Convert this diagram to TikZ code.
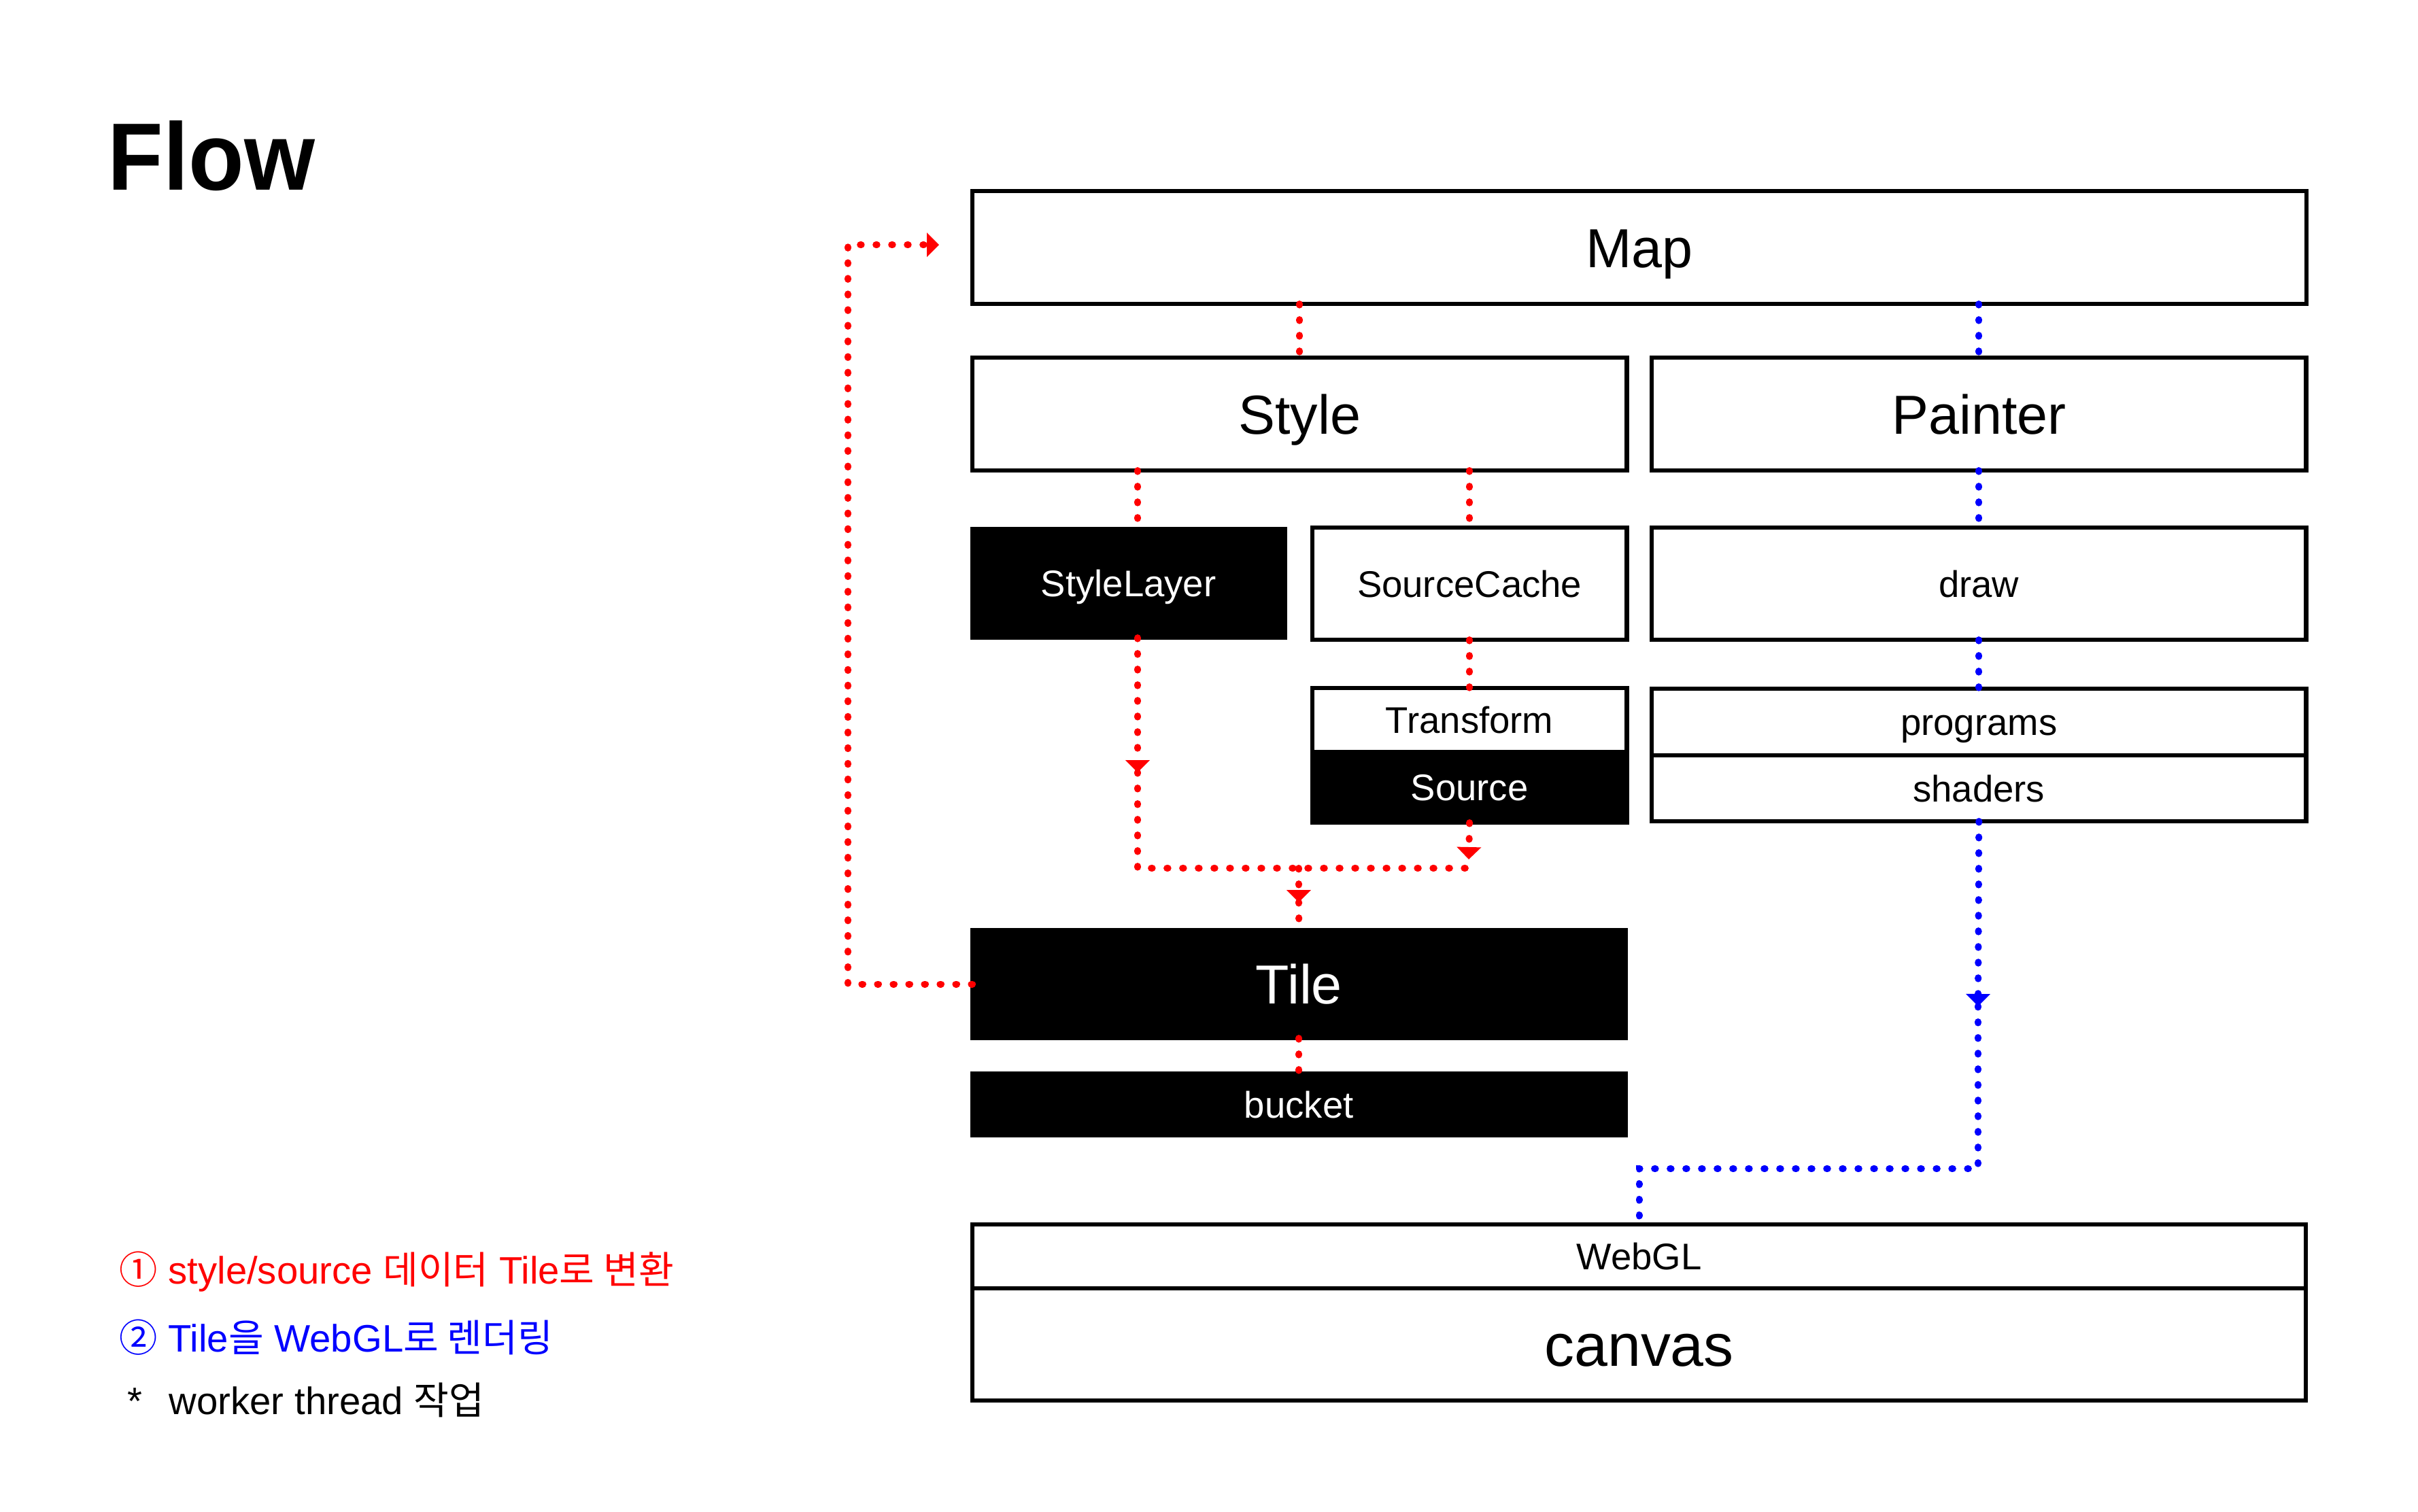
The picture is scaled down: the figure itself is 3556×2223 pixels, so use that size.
\documentclass[tikz,border=0pt]{standalone}
\usepackage{fontspec}
\usepackage{graphicx}
\setmainfont{Liberation Sans}
\newfontfamily\cjk{Noto Sans CJK KR}
\usetikzlibrary{arrows.meta}
\definecolor{rd}{RGB}{255,0,0}
\definecolor{bl}{RGB}{0,0,255}
\begin{document}
\begin{tikzpicture}[x=0.01cm,y=-0.01cm,
  box/.style={draw=black,line width=0.065cm,inner sep=0pt,outer sep=0pt,anchor=north west,align=center,text depth=0pt},
  wbox/.style={box,fill=white,text=black},
  bbox/.style={box,fill=black,text=white},
  bigtxt/.style={font=\fontsize{23}{27}\selectfont,text height=16.47pt},
  smalltxt/.style={font=\fontsize{15.5}{18}\selectfont,text height=11.1pt},
  hugetxt/.style={font=\fontsize{25}{30}\selectfont,text height=17.9pt},
  dotline/.style={line width=0.1cm,line cap=round,dash pattern=on 0.015cm off 0.215cm},
  rdots/.style={dotline,draw=rd},
  bdots/.style={dotline,draw=bl},
  arrowend/.style={-{Triangle[length=0.18cm,width=0.36cm,line width=0pt]}},
  legend/.style={anchor=base west,inner sep=0pt,font=\fontsize{16}{19}\selectfont}]
\useasboundingbox (0,0) rectangle (3556,2223);
\fill[white] (0,0) rectangle (3556,2223);

\node[anchor=base west,inner sep=0pt,font=\fontsize{40}{48}\selectfont\bfseries] (title) at (158,279) {\scalebox{0.95}[1]{Flow}};

\node[wbox,bigtxt,minimum width=19.61cm,minimum height=1.66cm] (Map) at (1430,281) {Map};
\node[wbox,bigtxt,minimum width=9.62cm,minimum height=1.66cm] (Style) at (1430,526) {Style};
\node[wbox,bigtxt,minimum width=9.62cm,minimum height=1.66cm] (Painter) at (2429,526) {Painter};
\node[bbox,smalltxt,minimum width=4.59cm,minimum height=1.60cm] (StyleLayer) at (1430,778) {StyleLayer};
\node[wbox,smalltxt,minimum width=4.62cm,minimum height=1.65cm] (SourceCache) at (1930,776) {SourceCache};
\node[wbox,smalltxt,minimum width=9.62cm,minimum height=1.65cm] (drawbox) at (2429,776) {draw};
\node[wbox,smalltxt,minimum width=4.62cm,minimum height=0.94cm] (Transform) at (1930,1012) {Transform};
\node[bbox,smalltxt,minimum width=4.62cm,minimum height=1.04cm] (Source) at (1930,1106) {Source};
\node[wbox,smalltxt,minimum width=9.62cm,minimum height=0.98cm] (programs) at (2429,1013) {programs};
\node[wbox,smalltxt,minimum width=9.62cm,minimum height=0.97cm] (shaders) at (2429,1111) {shaders};
\node[bbox,bigtxt,minimum width=9.60cm,minimum height=1.59cm] (Tile) at (1430,1368) {Tile};
\node[bbox,smalltxt,minimum width=9.60cm,minimum height=0.91cm] (bucket) at (1430,1579) {bucket};
\node[wbox,smalltxt,minimum width=19.60cm,minimum height=0.94cm] (WebGL) at (1430,1801) {WebGL};
\node[wbox,hugetxt,minimum width=19.60cm,minimum height=1.65cm] (canvas) at (1430,1895) {canvas};

\coordinate (slA) at (1673,1136);
\coordinate (slC) at (1673,1277);
\coordinate (scC) at (2160,1277);
\coordinate (scA) at (2160,1264);
\coordinate (jn) at (1910,1277);
\coordinate (tA) at (1910,1327);
\coordinate (lpT) at (1247,360);
\coordinate (mA) at (1381,360);
\coordinate (bA) at (2909,1480);
\coordinate (bC) at (2909,1719);

% red flow
\draw[rdots] (Style.north |- Map.south) -- (Style.north);
\draw[rdots] (slC |- Style.south) -- (slC |- StyleLayer.north);
\draw[rdots] (SourceCache.north |- Style.south) -- (SourceCache.north);
\draw[rdots] (SourceCache.south) -- (Transform.north);
\draw[rdots,arrowend] (slC |- StyleLayer.south) -- (slA);
\draw[rdots] (slA) -- (slC) -- (scC);
\draw[rdots,arrowend] (Source.south) -- (scA);
\draw[rdots,arrowend] (jn) -- (tA);
\draw[rdots] (tA) -- (Tile.north);
\draw[rdots] (Tile.south) -- (bucket.north);
\draw[rdots,arrowend] (Tile.west) -- (Tile.west -| lpT) -- (lpT) -- (mA);

% blue flow
\draw[bdots] (Painter.north |- Map.south) -- (Painter.north);
\draw[bdots] (drawbox.north |- Painter.south) -- (drawbox.north);
\draw[bdots] (drawbox.south) -- (programs.north);
\draw[bdots,arrowend] (shaders.south) -- (bA);
\draw[bdots] (bA) -- (bC) -- (WebGL.north |- bC) -- (WebGL.north);

% legend
\node[legend,text=rd] (leg1) at (175,1888) {{\cjk ①} style/source {\cjk 데이터} Tile{\cjk 로 변환}};
\node[legend,text=bl] (leg2) at (175,1988) {{\cjk ②} Tile{\cjk 을} WebGL{\cjk 로 렌더링}};
\node[legend,text=black] (leg3) at (187,2080) {*\hspace{0.7em}worker thread {\cjk 작업}};
\end{tikzpicture}
\end{document}
